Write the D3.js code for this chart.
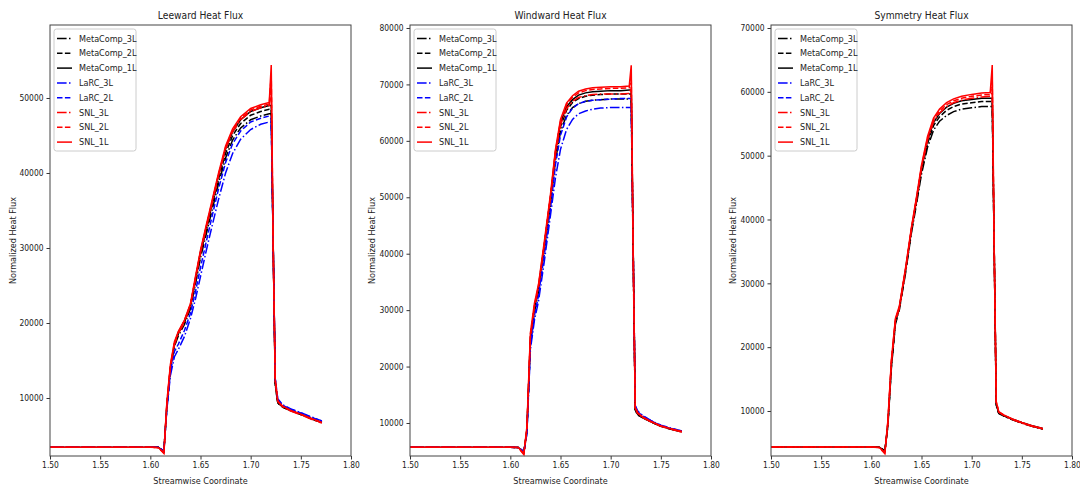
<!DOCTYPE html>
<html>
<head>
<meta charset="utf-8">
<script src="https://cdnjs.cloudflare.com/ajax/libs/d3/7.8.5/d3.min.js"></script>
<style>
body { margin: 0; background: #fff; }
svg text { font-family: "DejaVu Sans Condensed", "Liberation Sans", sans-serif; fill: #222; }
</style>
</head>
<body>
<div id="wrap"></div>
<script>
//streamwise positions shared by every curve
var xs = [1.500, 1.550, 1.600, 1.608, 1.6135, 1.6165, 1.620, 1.624, 1.628, 1.634,
          1.640, 1.645, 1.650, 1.656, 1.662, 1.668, 1.675, 1.682, 1.690, 1.700,
          1.710, 1.7185, 1.7205, 1.7225, 1.7245, 1.727, 1.732, 1.740, 1.750, 1.760, 1.771];

var seriesNames = ["MetaComp_3L", "MetaComp_2L", "MetaComp_1L", "LaRC_3L", "LaRC_2L", "SNL_3L", "SNL_2L", "SNL_1L"];
var xTicks = [1.50, 1.55, 1.60, 1.65, 1.70, 1.75, 1.80];

//Leeward
var leeMeta3 = [3450,3450,3450,3420,2900,8800,13800,16900,18300,19800,21900,25200,28700,32000,35300,38600,42000,44400,46000,47100,47600,47900,47900,30000,11700,9300,8750,8300,7800,7250,6700];
var leeMeta2 = [3450,3450,3450,3420,2900,8900,13900,17000,18600,20100,22200,25600,29200,32500,35900,39200,42600,45000,46600,47700,48200,48500,48500,30000,11800,9350,8800,8330,7830,7280,6730];
var leeMeta1 = [3450,3450,3450,3420,2900,9000,14000,17200,18800,20300,22400,25900,29500,32900,36300,39700,43200,45500,47100,48200,48700,49000,49000,30000,12000,9400,8850,8350,7850,7300,6750];
var leeLarc3 = [3450,3450,3450,3420,2950,8500,13000,15500,16500,18200,20600,23200,26200,29800,33200,36500,40000,42600,44500,45800,46500,46800,46800,30000,12600,9900,9100,8550,8050,7500,6950];
var leeLarc2 = [3450,3450,3450,3420,2900,8700,13500,16200,17200,19000,21300,24200,27400,31000,34500,37900,41400,43900,45600,46800,47300,47600,47600,30000,12500,9800,9000,8500,8000,7450,6900];
var leeSnl3  = [3450,3450,3450,3370,2600,9100,14100,17100,18600,20100,22300,25800,29300,32800,36200,39600,43200,45500,47100,48200,48700,49000,51500,29000,12200,9500,8800,8250,7750,7200,6650];
var leeSnl2  = [3450,3450,3450,3380,2650,9300,14300,17300,18800,20300,22500,26000,29500,33000,36400,39800,43400,45700,47300,48400,48900,49200,53000,30000,12300,9550,8850,8300,7800,7250,6700];
var leeSnl1  = [3450,3450,3450,3400,2700,9500,14500,17500,18900,20400,22600,26200,29700,33200,36600,40000,43600,45900,47500,48600,49100,49400,54400,30000,12500,9600,8900,8350,7850,7300,6750];

//Windward
var winMeta3 = [5700,5700,5700,5660,4900,8400,24000,29600,33200,40800,48800,56500,61600,64500,65900,66600,67000,67200,67300,67400,67400,67400,67400,40000,12200,11400,10900,10200,9400,8900,8400];
var winMeta2 = [5700,5700,5700,5660,4800,8600,24600,30100,33600,41300,49500,57300,62500,65400,66800,67500,67900,68100,68200,68300,68300,68300,68300,40000,12300,11450,10950,10230,9430,8930,8430];
var winMeta1 = [5700,5700,5700,5660,4800,8800,25000,30500,34000,41800,50000,58000,63200,66000,67300,68100,68500,68700,68800,68900,68900,69000,69000,40000,12400,11500,11000,10250,9450,8950,8450];
var winLarc3 = [5700,5700,5700,5660,4950,8000,23000,28200,31500,38800,46800,53500,58500,62000,63800,64800,65300,65600,65800,65900,65900,65900,65900,40000,13100,12100,11300,10450,9600,9100,8600];
var winLarc2 = [5700,5700,5700,5660,4900,8200,23500,29000,32500,40000,48000,55800,61000,64200,65800,66600,67000,67200,67300,67400,67500,67500,67500,40000,13000,12000,11200,10400,9550,9050,8550];
var winSnl3  = [5700,5700,5700,5630,4400,8700,25200,30400,33900,41700,49800,57700,62800,65700,67000,67700,68000,68200,68300,68300,68300,68400,69500,38000,12600,11600,10950,10200,9400,8900,8400];
var winSnl2  = [5700,5700,5700,5640,4500,9000,25600,30800,34200,42000,50200,58200,63500,66400,67700,68500,68900,69100,69200,69300,69300,69400,71500,40000,12700,11700,11000,10250,9450,8950,8450];
var winSnl1  = [5700,5700,5700,5650,4600,9300,26000,31200,34500,42300,50500,58500,63800,66700,68000,68800,69200,69400,69500,69600,69600,69700,73400,40000,12800,11800,11100,10300,9500,9000,8500];

//Symmetry (LaRC has no curve here)
var symMeta3 = [4350,4350,4350,4320,3800,7600,16800,23600,25900,31500,37900,42400,47100,51300,54000,55400,56300,56900,57300,57500,57700,57700,57700,35000,10800,9600,9200,8650,8100,7600,7150];
var symMeta2 = [4350,4350,4350,4320,3750,7800,17000,23800,26100,31800,38200,42800,47600,51900,54700,56100,57100,57700,58100,58300,58500,58500,58500,35000,10900,9650,9250,8700,8150,7650,7200];
var symMeta1 = [4350,4350,4350,4320,3700,8000,17200,24000,26300,32000,38500,43200,48000,52400,55200,56600,57600,58200,58600,58800,59000,59000,59000,35000,11000,9700,9300,8750,8200,7700,7250];
var symSnl3  = [4350,4350,4350,4280,3300,8100,17600,24100,26100,31900,38400,43000,48000,52400,55300,56700,57700,58300,58700,59000,59200,59300,60000,35000,11300,9800,9300,8700,8100,7600,7150];
var symSnl2  = [4350,4350,4350,4290,3400,8300,17800,24300,26300,32100,38600,43300,48300,52700,55600,57000,58000,58600,59000,59300,59500,59600,62000,35000,11400,9850,9350,8750,8150,7650,7200];
var symSnl1  = [4350,4350,4350,4300,3500,8500,18000,24500,26500,32300,38800,43500,48500,53000,55900,57300,58300,58900,59300,59600,59800,59900,64200,35000,11500,9900,9400,8800,8200,7700,7250];

var panels = [
  {title: "Leeward Heat Flux", left: 50, yMin: 2267, yMax: 59733, yTicks: [10000, 20000, 30000, 40000, 50000], labelX: 16,
   series: [leeMeta3, leeMeta2, leeMeta1, leeLarc3, leeLarc2, leeSnl3, leeSnl2, leeSnl1]},
  {title: "Windward Heat Flux", left: 410, yMin: 4150, yMax: 80530, yTicks: [10000, 20000, 30000, 40000, 50000, 60000, 70000, 80000], labelX: 375,
   series: [winMeta3, winMeta2, winMeta1, winLarc3, winLarc2, winSnl3, winSnl2, winSnl1]},
  {title: "Symmetry Heat Flux", left: 771, yMin: 2950, yMax: 70470, yTicks: [10000, 20000, 30000, 40000, 50000, 60000, 70000], labelX: 736,
   series: [symMeta3, symMeta2, symMeta1, null, null, symSnl3, symSnl2, symSnl1]}
];

//line styles in legend order
var styleColor = ["#000", "#000", "#000", "#0000ff", "#0000ff", "#ff0000", "#ff0000", "#ff0000"],
    styleDash = ["9.6,2.4,1.5,2.4", "5.5,2.4", null, "9.6,2.4,1.5,2.4", "5.5,2.4", "9.6,2.4,1.5,2.4", "5.5,2.4", null];

var width = 1080, height = 486,
    plotW = 301, plotTop = 25, plotBottom = 456;

var svg = d3.select('#wrap').append('svg')
      .attr('width', width)
      .attr('height', height);

panels.forEach(function(p) {
  var x = d3.scaleLinear().domain([1.5, 1.8]).range([p.left, p.left + plotW]),
      y = d3.scaleLinear().domain([p.yMin, p.yMax]).range([plotBottom, plotTop]);

  var g = svg.append('g');

  //curves
  var line = d3.line()
    .x(function(d, i) { return x(xs[i]); })
    .y(function(d) { return y(d); });

  p.series.forEach(function(vals, k) {
    if (!vals) return;
    g.append('path')
      .attr('d', line(vals))
      .style('fill', 'none')
      .style('stroke', styleColor[k])
      .style('stroke-width', 1.5)
      .style('stroke-dasharray', styleDash[k]);
  });

  //axes
  var xAxis = g.append('g')
    .attr('transform', 'translate(0,' + plotBottom + ')')
    .call(d3.axisBottom(x).tickValues(xTicks).tickFormat(d3.format('.2f')).tickSizeOuter(0).tickSize(3.5).tickPadding(3));
  var yAxis = g.append('g')
    .attr('transform', 'translate(' + p.left + ',0)')
    .call(d3.axisLeft(y).tickValues(p.yTicks).tickFormat(d3.format('d')).tickSizeOuter(0).tickSize(3.5).tickPadding(3));
  [xAxis, yAxis].forEach(function(a) {
    a.select('.domain').remove();
    a.selectAll('line').style('stroke', '#333');
    a.selectAll('text').style('font-size', '8.4px').style('fill', '#222');
  });

  //frame
  g.append('rect')
    .attr('x', p.left).attr('y', plotTop)
    .attr('width', plotW).attr('height', plotBottom - plotTop)
    .style('fill', 'none')
    .style('stroke', '#444')
    .style('stroke-width', 1);

  //titles
  g.append('text')
    .attr('x', p.left + plotW / 2).attr('y', 19)
    .attr('text-anchor', 'middle')
    .style('font-size', '10.2px')
    .text(p.title);
  g.append('text')
    .attr('x', p.left + plotW / 2).attr('y', 484)
    .attr('text-anchor', 'middle')
    .style('font-size', '9px')
    .text('Streamwise Coordinate');
  g.append('text')
    .attr('transform', 'translate(' + p.labelX + ',' + ((plotTop + plotBottom) / 2) + ') rotate(-90)')
    .attr('text-anchor', 'middle')
    .style('font-size', '9px')
    .text('Normalized Heat Flux');

  //legend
  var lg = g.append('g').attr('transform', 'translate(' + (p.left + 4) + ',' + (plotTop + 4) + ')');
  lg.append('rect')
    .attr('width', 82).attr('height', 122)
    .attr('rx', 2.5)
    .style('fill', '#fff')
    .style('fill-opacity', 0.8)
    .style('stroke', '#ccc');
  var item = lg.selectAll('.item')
    .data(seriesNames)
    .enter().append('g')
      .attr('class', 'item')
      .attr('transform', function(d, i) { return 'translate(0,' + (9.5 + i * 14.8) + ')'; });
  item.append('line')
    .attr('x1', 3).attr('x2', 18)
    .style('stroke', function(d, i) { return styleColor[i]; })
    .style('stroke-width', 1.5)
    .style('stroke-dasharray', function(d, i) { return styleDash[i]; });
  item.append('text')
    .attr('x', 25).attr('dy', '0.35em')
    .style('font-size', '9px')
    .text(function(d) { return d; });
});
</script>
</body>
</html>
